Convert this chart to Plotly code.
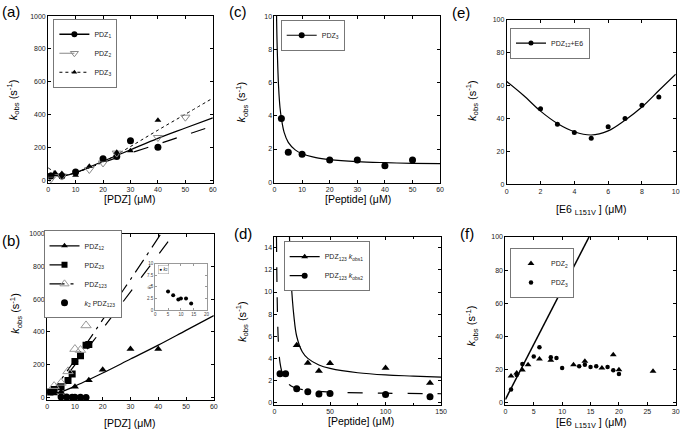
import plotly.graph_objects as go

W, H = 685, 439
FONT = "Arial, Liberation Sans, sans-serif"

# ---------------- data ----------------
# (a)
a_pdz1_x = [1, 5, 10, 20, 25, 30, 40]
a_pdz1_y = [25, 25, 50, 130, 145, 240, 200]
a_pdz2_x = [1, 5, 15, 20, 25, 40, 50]
a_pdz2_y = [8, 25, 65, 105, 165, 260, 384]
a_pdz3_x = [1, 2.5, 5, 10, 15, 20, 25, 30, 40]
a_pdz3_y = [30, 45, 40, 30, 85, 125, 170, 180, 365]
a_fit1_x = [0, 5, 10, 15, 20, 30, 40, 50, 60]
a_fit1_y = [35, 25, 45, 80, 115, 185, 255, 318, 380]
a_fit2_x = [0, 5, 10, 15, 20, 30, 40, 50, 60]
a_fit2_y = [40, 28, 45, 78, 108, 165, 220, 275, 330]
a_fit3_x = [0, 2.5, 5, 7.5, 10, 15, 20, 30, 40, 50, 60]
a_fit3_y = [75, 50, 35, 35, 45, 75, 110, 205, 305, 402, 500]

# (b)
b_pdz12_x = [1, 2.5, 5, 10, 15, 20, 30, 40]
b_pdz12_y = [34, 25, 34, 66, 106, 170, 296, 296]
b_pdz23_x = [1, 2.5, 5, 7.5, 9, 10, 12, 14, 15]
b_pdz23_y = [35, 50, 66, 104, 144, 220, 256, 320, 324]
b_pdz123_x = [2.5, 5, 7.5, 10, 12, 14]
b_pdz123_y = [70, 90, 160, 296, 290, 440]
b_k2_x = [5, 7, 9, 10, 12, 14]
b_k2_y = [4.0, 3.2, 2.3, 2.5, 2.5, 1.4]
b_fit12_x = [0, 2.5, 5, 10, 15, 20, 30, 40, 50, 60]
b_fit12_y = [45, 30, 35, 70, 110, 150, 235, 320, 410, 500]
b_fit23_x = [0, 2.5, 5, 10, 15, 20, 30, 45.7]
b_fit23_y = [35, 45, 90, 200, 310, 420, 645, 1000]
b_fit123_x = [0, 2.5, 5, 10, 15, 20, 30, 41]
b_fit123_y = [30, 55, 110, 230, 350, 475, 720, 1000]

# (c)
c_pdz3_x = [2.5, 5, 10, 20, 30, 40, 50]
c_pdz3_y = [3.84, 1.81, 1.69, 1.34, 1.34, 1.0, 1.34]
c_fit_x = [0.75, 1, 1.5, 2, 2.5, 3.5, 5, 7.5, 10, 15, 20, 30, 40, 50, 60]
c_fit_y = [10, 8.0, 5.7, 4.5, 3.85, 3.0, 2.4, 1.95, 1.72, 1.48, 1.36, 1.24, 1.18, 1.14, 1.12]

# (d)
d_k1_x = [20, 30, 40, 50, 100, 140]
d_k1_y = [5.19, 3.59, 2.85, 3.56, 3.12, 1.78]
d_k2_x = [5, 10, 20, 30, 40, 50, 100, 140]
d_k2_y = [2.61, 2.61, 1.25, 0.98, 0.77, 0.83, 0.74, 0.53]
d_fit1_x = [13.5, 15, 17.5, 20, 25, 30, 40, 50, 75, 100, 125, 150]
d_fit1_y = [15, 11, 7.8, 6.0, 4.6, 4.0, 3.4, 3.1, 2.7, 2.5, 2.4, 2.3]
d_fit2_x = [1.8, 2.5, 3.5, 5, 7.5, 10, 15, 20, 30, 50, 100, 150]
d_fit2_y = [15, 9, 5.5, 3.6, 2.5, 2.0, 1.5, 1.3, 1.1, 0.95, 0.85, 0.8]

# (e)
e_x = [2, 3, 4, 5, 6, 7, 8, 9]
e_y = [46, 36.5, 31.5, 28, 35, 40, 48, 53]
e_fit_x = [0, 1, 2, 3, 4, 5, 6, 7, 8, 9, 10]
e_fit_y = [62.5, 54, 44.5, 37, 32, 30, 32.5, 39, 47, 57, 67]

# (f)
f_pdz2_x = [1, 2, 3, 4, 6, 8, 12, 14, 17, 19, 20, 26]
f_pdz2_y = [16.2, 18, 19.8, 23, 26.5, 25.7, 23, 25, 21, 29, 20, 19]
f_pdz3_x = [1, 2, 3, 5, 6, 8, 9, 10, 13, 14, 15, 16, 18, 19, 20]
f_pdz3_y = [8, 16.8, 23.4, 28, 33.5, 27.5, 27, 21, 22, 23, 21.6, 22, 21.6, 19.6, 17.4]
f_fit_x = [0, 14.74]
f_fit_y = [2, 100]

# ---------------- helpers ----------------
def px(x0, x1):
    return [x0 / W, x1 / W]

def py(top, bottom):
    return [1 - bottom / H, 1 - top / H]

def axis(dom, rng, tickvals, anchor, **kw):
    d = dict(domain=dom, range=rng, tickvals=tickvals, anchor=anchor,
             showline=True, linecolor="black", linewidth=1, mirror="ticks",
             ticks="inside", ticklen=3, tickcolor="black", tickwidth=1,
             tickfont=dict(size=7, color="#222", family=FONT),
             showgrid=False, zeroline=False)
    d.update(kw)
    return d

fig = go.Figure()

def sc(x, y, ax, leg, name=None, show=False, mode="markers", **kw):
    fig.add_trace(go.Scatter(x=x, y=y, xaxis="x" + ax, yaxis="y" + ax,
                             mode=mode, name=name, showlegend=show,
                             legend=leg, **kw))

def legend_entry(ax, leg, name, mode, line=None, marker=None):
    fig.add_trace(go.Scatter(x=[None], y=[None], xaxis="x" + ax, yaxis="y" + ax,
                             mode=mode, name=name, showlegend=True, legend=leg,
                             line=line, marker=marker))

BLK = "black"
# (a)
sc(a_fit1_x, a_fit1_y, "", "legend", mode="lines", line=dict(color=BLK, width=1.2, shape="spline"))
sc(a_fit2_x, a_fit2_y, "", "legend", mode="lines", line=dict(color=BLK, width=1.2, dash="longdash", shape="spline"))
sc(a_fit3_x, a_fit3_y, "", "legend", mode="lines", line=dict(color=BLK, width=1, dash="dot", shape="spline"))
sc(a_pdz1_x, a_pdz1_y, "", "legend", marker=dict(symbol="circle", size=7, color=BLK))
sc(a_pdz2_x, a_pdz2_y, "", "legend", marker=dict(symbol="triangle-down-open", size=8, color="#888", line=dict(width=1)))
sc(a_pdz3_x, a_pdz3_y, "", "legend", marker=dict(symbol="triangle-up", size=6, color=BLK))
legend_entry("", "legend", "PDZ<sub>1</sub>", "lines+markers", dict(color=BLK, width=1.5), dict(symbol="circle", size=6, color=BLK))
legend_entry("", "legend", "PDZ<sub>2</sub>", "lines+markers", dict(color="#888", width=1.2, dash="longdash"), dict(symbol="triangle-down-open", size=7, color="#888"))
legend_entry("", "legend", "PDZ<sub>3</sub>", "lines+markers", dict(color=BLK, width=1, dash="dot"), dict(symbol="triangle-up", size=5, color=BLK))

# (b)
sc(b_fit12_x, b_fit12_y, "2", "legend2", mode="lines", line=dict(color=BLK, width=1.2, shape="spline"))
sc(b_fit23_x, b_fit23_y, "2", "legend2", mode="lines", line=dict(color=BLK, width=1.2, dash="longdash", shape="spline"))
sc(b_fit123_x, b_fit123_y, "2", "legend2", mode="lines", line=dict(color=BLK, width=1.2, dash="longdashdot", shape="spline"))
sc(b_pdz12_x, b_pdz12_y, "2", "legend2", marker=dict(symbol="triangle-up", size=7, color=BLK))
sc(b_pdz23_x, b_pdz23_y, "2", "legend2", marker=dict(symbol="square", size=7, color=BLK))
sc(b_pdz123_x, b_pdz123_y, "2", "legend2", marker=dict(symbol="triangle-up-open", size=9, color="#999", line=dict(width=1)))
sc(b_k2_x, b_k2_y, "2", "legend2", marker=dict(symbol="circle", size=7, color=BLK))
legend_entry("2", "legend2", "PDZ<sub>12</sub>", "lines+markers", dict(color=BLK, width=1.2), dict(symbol="triangle-up", size=6, color=BLK))
legend_entry("2", "legend2", "PDZ<sub>23</sub>", "lines+markers", dict(color=BLK, width=1.2, dash="longdash"), dict(symbol="square", size=6, color=BLK))
legend_entry("2", "legend2", "PDZ<sub>123</sub>", "lines+markers", dict(color=BLK, width=1.2, dash="longdashdot"), dict(symbol="triangle-up-open", size=8, color="#999"))
legend_entry("2", "legend2", "<i>k</i><sub>2</sub> PDZ<sub>123</sub>", "markers", None, dict(symbol="circle", size=7, color=BLK))
# inset
sc(b_k2_x, b_k2_y, "7", "legend2", marker=dict(symbol="circle", size=4, color=BLK))

# (c)
sc(c_fit_x, c_fit_y, "3", "legend3", mode="lines", line=dict(color=BLK, width=1.2, shape="spline"))
sc(c_pdz3_x, c_pdz3_y, "3", "legend3", marker=dict(symbol="circle", size=7, color=BLK))
legend_entry("3", "legend3", "PDZ<sub>3</sub>", "lines+markers", dict(color=BLK, width=1.2), dict(symbol="circle", size=6, color=BLK))

# (d)
sc(d_fit1_x, d_fit1_y, "4", "legend4", mode="lines", line=dict(color=BLK, width=1.2, shape="spline"))
sc(d_fit2_x, d_fit2_y, "4", "legend4", mode="lines", line=dict(color=BLK, width=1.2, dash="longdash", shape="spline"))
sc(d_k1_x, d_k1_y, "4", "legend4", marker=dict(symbol="triangle-up", size=7, color=BLK))
sc(d_k2_x, d_k2_y, "4", "legend4", marker=dict(symbol="circle", size=7, color=BLK))
legend_entry("4", "legend4", "PDZ<sub>123</sub> <i>k</i><sub>obs1</sub>", "lines+markers", dict(color=BLK, width=1.2), dict(symbol="triangle-up", size=6, color=BLK))
legend_entry("4", "legend4", "PDZ<sub>123</sub> <i>k</i><sub>obs2</sub>", "lines+markers", dict(color=BLK, width=1.2, dash="longdash"), dict(symbol="circle", size=6, color=BLK))

# (e)
sc(e_fit_x, e_fit_y, "5", "legend5", mode="lines", line=dict(color=BLK, width=1.2, shape="spline"))
sc(e_x, e_y, "5", "legend5", marker=dict(symbol="circle", size=5, color=BLK))
legend_entry("5", "legend5", "PDZ<sub>12</sub>+E6", "lines+markers", dict(color=BLK, width=1.2), dict(symbol="circle", size=5, color=BLK))

# (f)
sc(f_fit_x, f_fit_y, "6", "legend6", mode="lines", line=dict(color=BLK, width=1.5))
sc(f_pdz2_x, f_pdz2_y, "6", "legend6", name="PDZ<sub>2</sub>", show=True, marker=dict(symbol="triangle-up", size=6, color=BLK))
sc(f_pdz3_x, f_pdz3_y, "6", "legend6", name="PDZ<sub>3</sub>", show=True, marker=dict(symbol="circle", size=4.5, color=BLK))

# ---------------- layout ----------------
xa = px(46.7, 213.3); ya = py(12.3, 181.7)
xb = px(45.7, 214.3); yb = py(233.3, 402.5)
xc = px(275.7, 443.3); yc = py(12.3, 182.0)
xd = px(275.7, 444.3); yd = py(236.5, 407.3)
xe = px(510.7, 681.7); ye = py(16.0, 183.3)
xf = px(509.3, 681.7); yf = py(236.7, 407.0)
xi = px(155, 207); yi = py(264, 311)

layout = dict(
    width=W, height=H, margin=dict(l=0, r=0, t=0, b=0),
    paper_bgcolor="white", plot_bgcolor="white",
    font=dict(family=FONT, color="black"),
    xaxis=axis(xa, [0, 60], [0, 10, 20, 30, 40, 50, 60], "y"),
    yaxis=axis(ya, [-16, 1000], [0, 200, 400, 600, 800, 1000], "x"),
    xaxis2=axis(xb, [0, 60], [0, 10, 20, 30, 40, 50, 60], "y2"),
    yaxis2=axis(yb, [-15, 1000], [0, 200, 400, 600, 800, 1000], "x2"),
    xaxis3=axis(xc, [0, 60], [0, 10, 20, 30, 40, 50, 60], "y3"),
    yaxis3=axis(yc, [-0.05, 10], [0, 2, 4, 6, 8, 10], "x3"),
    xaxis4=axis(xd, [0, 150], [0, 50, 100, 150], "y4",
                minor=dict(tickvals=[25, 75, 125], ticks="inside", ticklen=2, tickcolor="black")),
    yaxis4=axis(yd, [-0.2, 15], [0, 2, 4, 6, 8, 10, 12, 14], "x4"),
    xaxis5=axis(xe, [0, 10], [0, 2, 4, 6, 8, 10], "y5"),
    yaxis5=axis(ye, [0, 100], [0, 20, 40, 60, 80, 100], "x5"),
    xaxis6=axis(xf, [0, 30], [0, 5, 10, 15, 20, 25, 30], "y6"),
    yaxis6=axis(yf, [-1, 100], [0, 20, 40, 60, 80, 100], "x6"),
    xaxis7=axis(xi, [0, 20], [0, 5, 10, 15, 20], "y7", linecolor="#999", tickcolor="#999",
                ticklen=2, tickfont=dict(size=4.5, color="#444", family=FONT)),
    yaxis7=axis(yi, [0, 10], [0, 2.5, 5, 7.5, 10], "x7", linecolor="#999", tickcolor="#999",
                ticklen=2, tickfont=dict(size=4.5, color="#444", family=FONT)),
)

def leg(left, top, size=7):
    return dict(x=left / W, y=1 - top / H, xanchor="left", yanchor="top",
                bgcolor="white", bordercolor="#777", borderwidth=1,
                font=dict(size=size, family=FONT, color="#222"),
                tracegroupgap=0, itemwidth=30)

layout["legend"] = leg(52, 15)
layout["legend2"] = leg(42, 230)
layout["legend3"] = leg(282, 16)
layout["legend4"] = leg(285, 241)
layout["legend5"] = leg(514, 24)
layout["legend6"] = leg(514, 248)

ann = []
def text(x, y, s, size, angle=0, **kw):
    ann.append(dict(x=x / W, y=1 - y / H, xref="paper", yref="paper", text=s,
                    xanchor="center", yanchor="middle",
                    showarrow=False, textangle=angle,
                    font=dict(size=size, family=FONT, color="black"), **kw))

# panel labels
text(9, 8, "(a)", 15)
text(9, 240, "(b)", 15)
text(239, 8, "(c)", 15)
text(244, 233, "(d)", 15)
text(464, 9, "(e)", 15)
text(470, 233, "(f)", 15)

ytitle = "<i>k</i><sub>obs</sub> (s<sup>-1</sup>)"
text(12, 97, ytitle, 11, -90)
text(14, 314, ytitle, 11, -90)
text(243, 100, ytitle, 11, -90)
text(243, 323, ytitle, 11, -90)
text(476, 98, ytitle, 11, -90)
text(475, 327, ytitle, 11, -90)

text(130, 198, "[PDZ] (μM)", 10.5)
text(130, 426, "[PDZ] (μM)", 10.5)
text(360, 198, "[Peptide] (μM)", 10.5)
text(363, 424, "[Peptide] (μM)", 10.5)
text(596, 209, "[E6 <sub>L151V</sub> ] (μM)", 10.5)
text(596, 426, "[E6 <sub>L151V</sub> ] (μM)", 10.5)

# inset legend and label
text(163, 270, "● <i>k</i><sub>2</sub>", 4.5, bordercolor="#999", borderwidth=0.5, borderpad=1, bgcolor="white")
text(150, 287, "<i>k</i><sub>2</sub>", 4.5, -90)

layout["annotations"] = ann
fig.update_layout(**layout)
fig.write_html("out.html", config={"displayModeBar": False},
               post_script="document.body.style.margin='0px';")
